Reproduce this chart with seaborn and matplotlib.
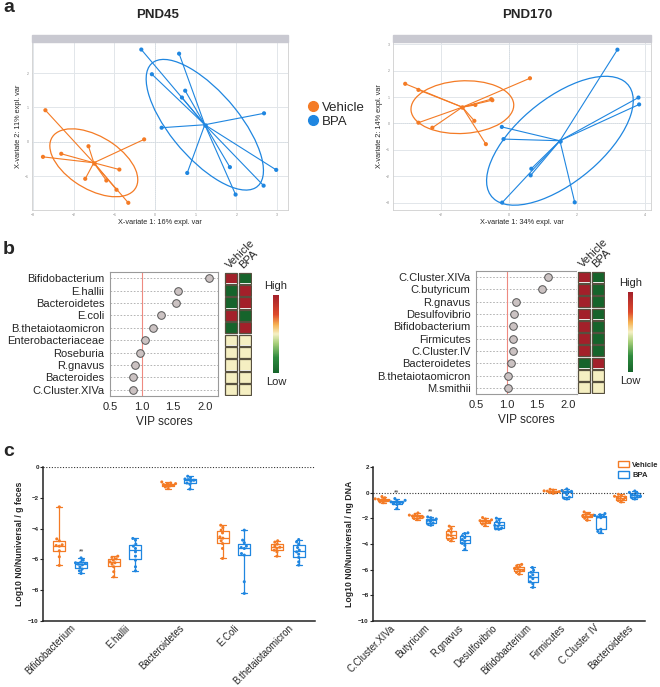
import matplotlib
matplotlib.use('Agg')
import matplotlib.pyplot as plt
from matplotlib.patches import Ellipse, Rectangle, Patch
from matplotlib.lines import Line2D
from matplotlib.colors import LinearSegmentedColormap
import numpy as np
import pandas as pd
import seaborn as sns

sns.set_theme(style='white')
plt.rcParams['font.family'] = ['Liberation Sans', 'DejaVu Sans']

ORANGE = '#F47B25'
BLUE = '#1F86E0'
groups = ['Vehicle', 'BPA']
pal = {'Vehicle': ORANGE, 'BPA': BLUE}

#############
# PLS-DA    #
#############
pnd45_veh_x = [-2.70, -2.76, -2.31, -1.64, -0.88, -1.72, -1.20, -0.95, -0.66, -0.27]
pnd45_veh_y = [0.92, -0.44, -0.35, -0.13, -0.81, -1.08, -1.13, -1.40, -1.78, 0.07]
pnd45_bpa_x = [-0.34, 0.59, -0.08, 0.74, 0.66, 0.16, 2.68, 1.84, 0.79, 2.98, 2.67, 1.98]
pnd45_bpa_y = [2.69, 2.57, 1.97, 1.49, 1.29, 0.41, 0.83, -0.74, -0.91, -0.82, -1.28, -1.54]
pnd170_veh_x = [-3.06, -2.67, -2.67, -2.26, -0.99, -0.52, -0.49, -1.02, -0.68, 0.62]
pnd170_veh_y = [1.50, 1.27, 0.03, -0.16, 0.70, 0.92, 0.88, 0.10, -0.78, 1.71]
pnd170_bpa_x = [3.20, 3.82, 3.84, -0.21, -0.16, 0.66, 0.64, -0.20, 1.94]
pnd170_bpa_y = [2.79, 0.98, 0.72, -0.13, -0.59, -1.71, -1.96, -2.99, -2.98]

#############
# VIP       #
#############
vip45_taxa = ['Bifidobacterium', 'E.hallii', 'Bacteroidetes', 'E.coli', 'B.thetaiotaomicron',
              'Enterobacteriaceae', 'Roseburia', 'R.gnavus', 'Bacteroides', 'C.Cluster.XIVa']
vip45_score = [2.06, 1.57, 1.55, 1.30, 1.18, 1.05, 0.97, 0.89, 0.87, 0.86]
vip45_vehicle = [1, -1, -1, 1, -1, 0, 0, 0, 0, 0]
vip45_bpa = [-1, 1, 1, -1, 1, 0, 0, 0, 0, 0]

vip170_taxa = ['C.Cluster.XIVa', 'C.butyricum', 'R.gnavus', 'Desulfovibrio', 'Bifidobacterium',
               'Firmicutes', 'C.Cluster.IV', 'Bacteroidetes', 'B.thetaiotaomicron', 'M.smithii']
vip170_score = [1.68, 1.58, 1.16, 1.12, 1.11, 1.10, 1.10, 1.07, 1.02, 1.02]
vip170_vehicle = [1, 1, 1, 1, 1, 1, 1, -1, 0, 0]
vip170_bpa = [-1, -1, -1, -1, -1, -1, -1, 1, 0, 0]

#############
# qPCR      #
#############
feces_taxa = ['Bifidobacterium', 'E.hallii', 'Bacteroidetes', 'E.Coli', 'B.thetaiotaomicron']
feces_vehicle = {
    'Bifidobacterium': [-2.59, -4.67, -4.79, -5.05, -5.10, -5.14, -5.44, -5.83, -6.39],
    'E.hallii': [-5.79, -5.87, -5.96, -6.05, -6.16, -6.22, -6.31, -6.48, -6.80, -7.13],
    'Bacteroidetes': [-0.97, -1.04, -1.08, -1.12, -1.14, -1.19, -1.23, -1.30, -1.40],
    'E.Coli': [-3.78, -3.93, -4.10, -4.28, -4.54, -4.62, -4.79, -4.97, -5.29, -5.94],
    'B.thetaiotaomicron': [-4.79, -4.88, -5.01, -5.14, -5.21, -5.29, -5.40, -5.51, -5.79],
}
feces_bpa = {
    'Bifidobacterium': [-5.90, -6.05, -6.18, -6.22, -6.26, -6.31, -6.35, -6.48, -6.63, -6.74, -6.91],
    'E.hallii': [-4.64, -4.75, -5.01, -5.14, -5.29, -5.51, -5.79, -6.05, -6.48, -6.74],
    'Bacteroidetes': [-0.60, -0.69, -0.78, -0.82, -0.86, -0.93, -1.04, -1.12, -1.43],
    'E.Coli': [-4.10, -4.75, -4.92, -5.14, -5.23, -5.29, -5.62, -5.72, -7.45, -8.21],
    'B.thetaiotaomicron': [-4.71, -4.86, -5.01, -5.23, -5.40, -5.51, -5.66, -5.87, -6.16, -6.37],
}
feces_sig = ['**', '', '', '', '']

dna_taxa = ['C.Cluster.XIVa', 'Butyricum', 'R.gnavus', 'Desulfovibrio', 'Bifidobacterium',
            'Firmicutes', 'C.Cluster IV', 'Bacteroidetes']
dna_vehicle = {
    'C.Cluster.XIVa': [-0.30, -0.40, -0.48, -0.52, -0.55, -0.60, -0.65, -0.72, -0.78],
    'Butyricum': [-1.58, -1.68, -1.75, -1.82, -1.85, -1.90, -1.97, -2.02, -2.10],
    'R.gnavus': [-2.61, -2.80, -2.95, -3.10, -3.30, -3.35, -3.55, -3.65, -3.75],
    'Desulfovibrio': [-1.94, -2.05, -2.12, -2.18, -2.22, -2.28, -2.33, -2.45, -2.56],
    'Bifidobacterium': [-5.59, -5.70, -5.78, -5.90, -5.96, -6.05, -6.12, -6.22, -6.35],
    'Firmicutes': [0.26, 0.20, 0.16, 0.14, 0.12, 0.08, 0.04, 0.00, -0.05],
    'C.Cluster IV': [-1.50, -1.62, -1.70, -1.75, -1.81, -1.85, -1.90, -2.00, -2.15],
    'Bacteroidetes': [-0.13, -0.22, -0.28, -0.35, -0.38, -0.45, -0.55, -0.62, -0.72],
}
dna_bpa = {
    'C.Cluster.XIVa': [-0.46, -0.60, -0.65, -0.72, -0.76, -0.80, -0.86, -0.92, -1.24],
    'Butyricum': [-1.89, -1.95, -2.05, -2.12, -2.16, -2.25, -2.38, -2.45, -2.54],
    'R.gnavus': [-3.13, -3.18, -3.35, -3.50, -3.65, -3.80, -3.95, -4.10, -4.43],
    'Desulfovibrio': [-1.99, -2.10, -2.25, -2.40, -2.55, -2.62, -2.75, -2.82, -2.85],
    'Bifidobacterium': [-5.83, -6.05, -6.20, -6.40, -6.55, -6.70, -6.95, -7.10, -7.38],
    'Firmicutes': [0.29, 0.16, 0.10, 0.06, 0.02, -0.15, -0.35, -0.42, -0.49],
    'C.Cluster IV': [-1.63, -1.72, -1.78, -1.85, -1.89, -1.95, -2.85, -3.02, -3.11],
    'Bacteroidetes': [0.13, 0.02, -0.05, -0.15, -0.20, -0.28, -0.35, -0.40, -0.49],
}
dna_sig = ['**', '**', '', '', '', '', '', '']

W, H = 660, 687
fig = plt.figure(figsize=(6.6, 6.87), dpi=100)


def box(x0, y0, x1, y1):
    # pixel box -> figure fraction rect
    return [x0 / W, 1 - y1 / H, (x1 - x0) / W, (y1 - y0) / H]


def pls_df(vx, vy, bx, by):
    return pd.DataFrame({'x': vx + bx, 'y': vy + by,
                         'group': ['Vehicle'] * len(vx) + ['BPA'] * len(bx)})


def draw_pls(ax, df, xlim, ylim, xticks, yticks, xlab, ylab, k):
    ax.set_xlim(xlim)
    ax.set_ylim(ylim)
    ax.set_xticks(xticks)
    ax.set_yticks(yticks)
    ax.grid(True, color='#E2E6EA', lw=0.7)
    ax.axhline(0, color='#D5DCE2', lw=0.7, ls=(0, (1, 1)))
    ax.axvline(0, color='#D5DCE2', lw=0.7, ls=(0, (1, 1)))
    for g in groups:
        sub = df[df.group == g]
        cx, cy = sub.x.mean(), sub.y.mean()
        for x, y in zip(sub.x, sub.y):
            ax.plot([cx, x], [cy, y], color=pal[g], lw=0.8, zorder=2)
        vals, vecs = np.linalg.eigh(np.cov(sub.x, sub.y))
        angle = np.degrees(np.arctan2(vecs[1, 1], vecs[0, 1]))
        ax.add_patch(Ellipse((cx, cy), 2 * k * np.sqrt(vals[1]), 2 * k * np.sqrt(vals[0]),
                             angle=angle, fill=False, ec=pal[g], lw=0.9, zorder=2))
        ax.scatter([cx], [cy], s=5, color=pal[g], zorder=3)
    sns.scatterplot(data=df, x='x', y='y', hue='group', palette=pal, s=9,
                    edgecolor='none', legend=False, ax=ax, zorder=3)
    ax.tick_params(labelsize=2.5, colors='#888888', length=1.5, pad=1)
    ax.set_xlabel(xlab, fontsize=5.3, labelpad=1)
    ax.set_ylabel(ylab, fontsize=5.3, labelpad=2)
    for s in ax.spines.values():
        s.set_color('#CFCFCF')
        s.set_linewidth(0.6)


# panel a
ax1 = fig.add_axes(box(32, 42, 288, 210))
draw_pls(ax1, pls_df(pnd45_veh_x, pnd45_veh_y, pnd45_bpa_x, pnd45_bpa_y),
         (-3.03, 3.27), (-1.99, 2.91), range(-3, 4), range(-1, 3),
         'X-variate 1: 16% expl. var', 'X-variate 2: 11% expl. var', 1.25)
ax2 = fig.add_axes(box(393, 42, 651, 210))
draw_pls(ax2, pls_df(pnd170_veh_x, pnd170_veh_y, pnd170_bpa_x, pnd170_bpa_y),
         (-3.42, 4.19), (-3.27, 3.08), [-2, 0, 2, 4], range(-3, 4),
         'X-variate 1: 34% expl. var', 'X-variate 2: 14% expl. var', 1.25)
for rect in (box(32, 35, 288, 42), box(393, 35, 651, 42)):
    fig.patches.append(Rectangle(rect[:2], rect[2], rect[3], transform=fig.transFigure,
                                 color='#C9C9D1', zorder=5))
fig.text(158 / W, 1 - 15 / H, 'PND45', fontsize=9.5, fontweight='bold', ha='center', va='center')
fig.text(527 / W, 1 - 15 / H, 'PND170', fontsize=9.5, fontweight='bold', ha='center', va='center')
fig.legend(handles=[Line2D([], [], marker='o', ls='', color=pal[g], ms=7) for g in groups],
           labels=groups, loc='upper left', bbox_to_anchor=(298 / W, 1 - 95 / H),
           frameon=False, fontsize=9.5, handletextpad=0.1, labelspacing=0.15,
           borderpad=0, handlelength=1.2)

# panel b
cmap = LinearSegmentedColormap.from_list(
    'hl', [(0.0, '#16642B'), (0.2, '#2E8B3E'), (0.38, '#A8CF7A'), (0.5, '#F5F0C4'),
           (0.62, '#F6B252'), (0.75, '#DE4A2C'), (1.0, '#A3202A')])
CELL_EDGE = '#57503F'


def draw_vip(ax, axh, cax, taxa, score, veh, bpa, xmax):
    df = pd.DataFrame({'taxon': taxa, 'score': score})
    for i in range(len(taxa)):
        ax.axhline(i, color='#A8A8A8', lw=0.6, ls=(0, (2, 2)), zorder=1)
    ax.axvline(1.0, color='#EE8A80', lw=0.8, zorder=1)
    sns.stripplot(data=df, x='score', y='taxon', order=taxa, jitter=False, size=5.5,
                  color='#CBC2C2', edgecolor='#555555', linewidth=0.7, ax=ax, zorder=3)
    ax.set_xlim(0.5, xmax)
    ax.set_ylim(len(taxa) - 0.5, -0.5)
    ax.set_xticks([0.5, 1.0, 1.5, 2.0])
    ax.set_ylabel('')
    ax.set_xlabel('VIP scores', fontsize=8.5, labelpad=3)
    ax.tick_params(axis='y', labelsize=8, length=0, pad=4)
    ax.tick_params(axis='x', labelsize=8, length=2, pad=2, color='#888888')
    for s in ax.spines.values():
        s.set_color('#9A9A9A')
        s.set_linewidth(0.8)

    hm = pd.DataFrame({'Vehicle': veh, 'BPA': bpa}, index=taxa)
    sns.heatmap(hm, cmap=cmap, vmin=-1, vmax=1, cbar=False, linewidths=1.2,
                linecolor='white', xticklabels=True, yticklabels=False, ax=axh)
    for i in range(len(taxa)):
        for j in range(2):
            axh.add_patch(Rectangle((j + 0.07, i + 0.05), 0.86, 0.9, fill=False,
                                    ec=CELL_EDGE, lw=0.9))
    axh.set_ylabel('')
    axh.xaxis.tick_top()
    plt.setp(axh.get_xticklabels(), rotation=45, ha='left', rotation_mode='anchor',
             fontsize=8)
    axh.tick_params(axis='x', length=0, pad=1)

    cb = fig.colorbar(plt.cm.ScalarMappable(cmap=cmap, norm=plt.Normalize(-1, 1)), cax=cax)
    cb.set_ticks([])
    cb.outline.set_visible(False)
    cax.text(0.5, 1.05, 'High', transform=cax.transAxes, ha='center', va='bottom', fontsize=8)
    cax.text(0.5, -0.05, 'Low', transform=cax.transAxes, ha='center', va='top', fontsize=8)


draw_vip(fig.add_axes(box(110, 272, 218, 396)), fig.add_axes(box(224, 272, 252, 396)),
         fig.add_axes(box(273, 295, 279, 373)),
         vip45_taxa, vip45_score, vip45_vehicle, vip45_bpa, 2.21)
draw_vip(fig.add_axes(box(476, 271, 577, 394)), fig.add_axes(box(577, 271, 605, 394)),
         fig.add_axes(box(628, 292, 633, 372)),
         vip170_taxa, vip170_score, vip170_vehicle, vip170_bpa, 2.15)

# panel c


def long_df(taxa, veh, bpa):
    rows = []
    for t in taxa:
        rows += [(t, 'Vehicle', v) for v in veh[t]]
        rows += [(t, 'BPA', v) for v in bpa[t]]
    return pd.DataFrame(rows, columns=['taxon', 'group', 'value'])


def draw_box(ax, taxa, veh, bpa, sig, gap, ylim, ylab):
    df = long_df(taxa, veh, bpa)
    sns.boxplot(data=df, x='taxon', y='value', hue='group', hue_order=groups, order=taxa,
                palette=pal, width=0.8, gap=gap, whis=(0, 100), fill=False, linewidth=0.9,
                legend=False, ax=ax)
    sns.swarmplot(data=df, x='taxon', y='value', hue='group', hue_order=groups, order=taxa,
                  palette=pal, dodge=True, size=2.2, legend=False, ax=ax)
    for i, t in enumerate(taxa):
        if sig[i]:
            ax.text(i + 0.2, max(bpa[t]) + 0.15, sig[i], ha='center', va='bottom', fontsize=5,
                    color='#333333')
    ax.axhline(0, color='#333333', lw=0.8, ls=(0, (1, 1.5)))
    ax.set_ylim(ylim)
    ax.set_xlim(-0.5, len(taxa) - 0.5)
    ax.set_yticks(np.arange(ylim[1], ylim[0] - 1, -2))
    ax.set_xlabel('')
    ax.set_ylabel(ylab, fontsize=6.3, fontweight='bold', labelpad=3)
    ax.tick_params(axis='y', labelsize=4.5, length=2, width=0.8, pad=1, left=True)
    ax.tick_params(axis='x', labelsize=6.9, length=0, pad=1.5)
    plt.setp(ax.get_yticklabels(), fontweight='bold')
    plt.setp(ax.get_xticklabels(), rotation=45, ha='right', rotation_mode='anchor')
    sns.despine(ax=ax)
    for s in ('left', 'bottom'):
        ax.spines[s].set_color('#222222')
        ax.spines[s].set_linewidth(1.1)


draw_box(fig.add_axes(box(43, 467, 315, 621)), feces_taxa, feces_vehicle, feces_bpa,
         feces_sig, 0.45, (-10, 0), 'Log10 N0/Nuniversal / g feces')
draw_box(fig.add_axes(box(373, 467, 645, 621)), dna_taxa, dna_vehicle, dna_bpa, dna_sig,
         0.3, (-10, 2), 'Log10 N0/Nuniversal / ng DNA')
fig.legend(handles=[Patch(facecolor='white', edgecolor=pal[g], lw=1) for g in groups],
           labels=groups, loc='upper left', bbox_to_anchor=(614 / W, 1 - 457 / H),
           frameon=False, prop={'size': 5.5, 'weight': 'bold'}, handlelength=1.5,
           handleheight=0.9, labelspacing=0.35, handletextpad=0.4, borderpad=0)

for lab, y in (('a', 8), ('b', 249), ('c', 452)):
    fig.text(3 / W, 1 - y / H, lab, fontsize=14, fontweight='bold', va='center')

fig.savefig('out.png', dpi=100)
